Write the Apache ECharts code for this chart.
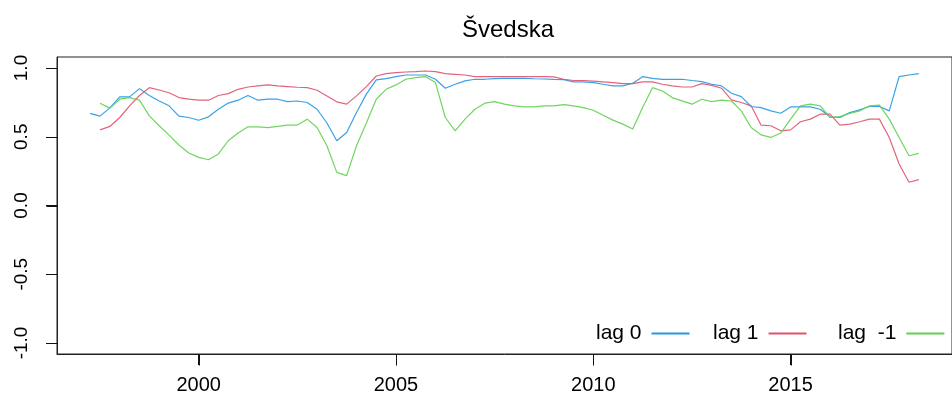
<!DOCTYPE html>
<html>
<head>
<meta charset="utf-8">
<script src="https://cdn.jsdelivr.net/npm/echarts@6/dist/echarts.min.js"></script>
<style>
  html, body { margin: 0; padding: 0; background: #fff; }
  #main { width: 952px; height: 408px; }
</style>
</head>
<body>
<div id="main"></div>
<script>
// quarterly correlations, 1997 Q2 .. 2018 Q2
var startYear = 1997.25
var xTicks = [2000, 2005, 2010, 2015]
var yTicks = [-1, -0.5, 0, 0.5, 1]
var names = ['lag 0', 'lag 1', 'lag  -1']

var lag0 = [
  0.67, 0.65, 0.71,
  0.79, 0.79, 0.85, 0.80,
  0.76, 0.725, 0.65, 0.64,
  0.62, 0.645, 0.70, 0.745,
  0.766, 0.80, 0.766, 0.773,
  0.773, 0.756, 0.76, 0.749,
  0.70, 0.60, 0.471, 0.531,
  0.676, 0.81, 0.913, 0.923,
  0.937, 0.949, 0.949, 0.949,
  0.918, 0.853, 0.882, 0.906,
  0.918, 0.918, 0.923, 0.925,
  0.925, 0.925, 0.922, 0.92,
  0.917, 0.915, 0.899, 0.899,
  0.894, 0.882, 0.87, 0.87,
  0.889, 0.937, 0.925, 0.917,
  0.917, 0.918, 0.909, 0.901,
  0.882, 0.87, 0.816, 0.792,
  0.72, 0.712, 0.688, 0.671,
  0.717, 0.717, 0.717, 0.70,
  0.645, 0.64, 0.676, 0.696,
  0.72, 0.72, 0.688, 0.937,
  0.949, 0.959
]
var lag1 = [
  null, 0.55, 0.575,
  0.64, 0.725, 0.80, 0.857,
  0.84, 0.82, 0.785, 0.773,
  0.766, 0.766, 0.80, 0.814,
  0.845, 0.862, 0.87, 0.877,
  0.87, 0.865, 0.86, 0.857,
  0.838, 0.797, 0.754, 0.737,
  0.797, 0.865, 0.942, 0.959,
  0.966, 0.971, 0.973, 0.978,
  0.973, 0.959, 0.954, 0.949,
  0.937, 0.937, 0.937, 0.937,
  0.937, 0.937, 0.937, 0.937,
  0.935, 0.918, 0.909, 0.909,
  0.904, 0.899, 0.894, 0.887,
  0.887, 0.899, 0.899, 0.882,
  0.87, 0.862, 0.862, 0.886,
  0.874, 0.853, 0.768, 0.749,
  0.725, 0.585, 0.58, 0.543,
  0.55, 0.609, 0.628, 0.664,
  0.664, 0.585, 0.592, 0.609,
  0.628, 0.628, 0.495, 0.302,
  0.169, 0.188
]
var lagM1 = [
  null, 0.744, 0.708,
  0.773, 0.785, 0.766, 0.652,
  0.58, 0.512, 0.44, 0.382,
  0.35, 0.333, 0.375, 0.471,
  0.527, 0.572, 0.572, 0.567,
  0.575, 0.585, 0.585, 0.628,
  0.567, 0.435, 0.241, 0.217,
  0.435, 0.6, 0.773, 0.845,
  0.877, 0.918, 0.93, 0.937,
  0.894, 0.64, 0.543, 0.628,
  0.70, 0.744, 0.756, 0.737,
  0.725, 0.717, 0.717, 0.725,
  0.725, 0.734, 0.725, 0.712,
  0.693, 0.657, 0.621, 0.592,
  0.556, 0.712, 0.857, 0.833,
  0.785, 0.761, 0.737, 0.773,
  0.756, 0.766, 0.76, 0.688,
  0.567, 0.514, 0.495, 0.527,
  0.628, 0.725, 0.737, 0.725,
  0.64, 0.647, 0.67, 0.688,
  0.725, 0.73, 0.628, 0.495,
  0.362, 0.379
]

var colors = ['#2297E6', '#DF536B', '#61D04F']
var font = 'Liberation Sans, Arial, sans-serif'
var xMin = 1996.41, xMax = 2019.09
var yMin = -1.08, yMax = 1.08
var legendLeft = [591, 708, 833]

function pairs (arr) {
  var out = []
  arr.forEach(function (v, i) {
    if (v !== null) out.push([startYear + i * 0.25, v])
  })
  return out
}

// R-style outward ticks, placed through the axes' own scales
function tickSeries (data, dx, dy) {
  return {
    type: 'custom',
    silent: true,
    clip: false,
    z: 10,
    data: data,
    renderItem: function (params, api) {
      var p = api.coord([api.value(0), api.value(1)])
      var x = Math.round(p[0]) + 0.5
      var y = Math.round(p[1]) + 0.5
      return {
        type: 'line',
        shape: { x1: x, y1: y, x2: x + dx, y2: y + dy },
        style: { stroke: '#111', lineWidth: 1 }
      }
    }
  }
}

var myChart = echarts.init(document.getElementById('main'))

var lineSeries = [lag0, lag1, lagM1].map(function (arr, i) {
  return {
    name: names[i],
    type: 'line',
    data: pairs(arr),
    showSymbol: false,
    color: colors[i],
    lineStyle: { width: 1.2, color: colors[i], opacity: 0.9 }
  }
})

myChart.setOption({
  animation: false,
  textStyle: { fontFamily: font },
  title: {
    text: 'Švedska',
    left: 503,
    top: 13,
    textAlign: 'center',
    textStyle: { fontFamily: font, fontSize: 24, fontWeight: 'normal', color: '#000' }
  },
  legend: names.map(function (n, i) {
    return {
      data: [n],
      left: legendLeft[i],
      top: 318,
      align: 'right',
      icon: 'rect',
      itemWidth: 38,
      itemHeight: 2,
      textStyle: { fontFamily: font, fontSize: 21, color: '#000', padding: [0, 5, 0, 0] }
    }
  }),
  grid: {
    left: 57,
    top: 57,
    width: 904,
    height: 297,
    show: true,
    borderColor: '#222',
    borderWidth: 1
  },
  xAxis: {
    type: 'value',
    min: xMin,
    max: xMax,
    splitLine: { show: false },
    axisLine: { show: true, onZero: false, lineStyle: { color: '#222' } },
    axisTick: { show: true, customValues: xTicks, length: 11, lineStyle: { color: '#111', width: 1 } },
    axisLabel: {
      customValues: xTicks,
      margin: 21,
      fontSize: 20,
      color: '#000',
      fontFamily: font,
      formatter: function (v) { return String(v) }
    }
  },
  yAxis: {
    type: 'value',
    min: yMin,
    max: yMax,
    splitLine: { show: false },
    axisLine: { show: true, onZero: false, lineStyle: { color: '#222' } },
    axisTick: { show: true, customValues: yTicks, length: 11, lineStyle: { color: '#111', width: 1 } },
    axisLabel: {
      customValues: yTicks,
      rotate: 90,
      margin: 26,
      fontSize: 19,
      color: '#000',
      fontFamily: font,
      formatter: function (v) { return v.toFixed(1) }
    }
  },
  series: lineSeries.concat([
    tickSeries(xTicks.map(function (v) { return [v, yMin] }), 0, 11),
    tickSeries(yTicks.map(function (v) { return [xMin, v] }), -11, 0)
  ])
})
</script>
</body>
</html>
